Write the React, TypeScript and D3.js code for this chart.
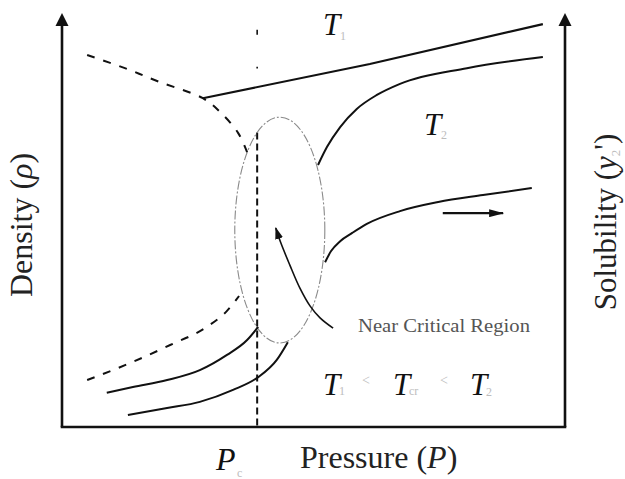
import React from "react";
import * as d3 from "d3";

// Phase-diagram style sketch: density / solubility vs. pressure (arbitrary units 0–10)
const W = 625;
const H = 479;

// Vapour–liquid coexistence (dashed) branches
const coexistLiquid: [number, number][] = [
  [0.5, 9.03], [1.25, 8.71], [1.95, 8.37], [2.8, 7.98], [3.14, 7.65], [3.5, 7.14], [3.68, 6.67],
];
const coexistVapour: [number, number][] = [
  [0.5, 1.14], [1.35, 1.55], [2.15, 1.99], [2.88, 2.43], [3.28, 2.82], [3.52, 3.18],
];

// Isotherms
const liquidT1: [number, number][] = [[2.8, 7.98], [6.12, 8.81], [9.56, 9.78]];
const vapourT1: [number, number][] = [
  [0.89, 0.83], [1.41, 0.97], [2.09, 1.14], [2.74, 1.38], [3.28, 1.75], [3.68, 2.11], [3.9, 2.43],
];
const densityT2Low: [number, number][] = [
  [1.31, 0.29], [2.09, 0.46], [2.74, 0.61], [3.4, 0.9], [3.9, 1.21], [4.27, 1.63], [4.49, 2.06],
];
const densityT2High: [number, number][] = [
  [5.09, 6.36], [5.27, 6.8], [5.53, 7.28], [5.86, 7.72], [6.26, 8.06], [6.72, 8.33], [8.05, 8.71], [9.56, 8.98],
];
const solubilityHigh: [number, number][] = [
  [5.23, 4.0], [5.35, 4.27], [5.53, 4.51], [5.77, 4.71], [6.06, 4.93], [6.72, 5.24], [7.48, 5.46], [8.37, 5.63], [9.34, 5.8],
];

// Pointer into the near-critical region
const regionPointer: [number, number][] = [
  [5.39, 2.4], [5.13, 2.65], [4.93, 2.94], [4.73, 3.37], [4.53, 3.93], [4.35, 4.47], [4.25, 4.83],
];
// Horizontal arrow (direction of increasing pressure)
const trendArrow: [number, number][] = [[7.57, 5.19], [8.77, 5.19]];

// Near-critical region ellipse: centre and radii
const regionCenter: [number, number] = [4.33, 4.78];
const regionRadii: [number, number] = [0.895, 2.74];

// Critical pressure
const criticalPressure = 3.88;

const x = d3.scaleLinear().domain([0, 10]).range([62, 565]);
const y = d3.scaleLinear().domain([0, 10]).range([427, 15]);

const smooth = d3
  .line<[number, number]>()
  .x((d) => x(d[0]))
  .y((d) => y(d[1]))
  .curve(d3.curveCatmullRom.alpha(0.5));
const monotone = d3
  .line<[number, number]>()
  .x((d) => x(d[0]))
  .y((d) => y(d[1]))
  .curve(d3.curveMonotoneX);
const straight = d3
  .line<[number, number]>()
  .x((d) => x(d[0]))
  .y((d) => y(d[1]));

const INK = "#111";
const FAINT = "#bdbdbd";
const SERIF = "'Liberation Serif', 'DejaVu Serif', serif";

function AxisArrow({ px }: { px: number }) {
  const tip = y(10.05);
  const base = tip + 13;
  return <polygon points={`${px},${tip} ${px - 6.5},${base} ${px + 6.5},${base}`} fill={INK} />;
}

export default function App() {
  const [cx, cy] = regionCenter;
  const rx = x(regionCenter[0] + regionRadii[0]) - x(regionCenter[0]);
  const ry = y(regionCenter[1] - regionRadii[1]) - y(regionCenter[1]);
  const xc = x(criticalPressure);

  return (
    <svg
      width={W}
      height={H}
      viewBox={`0 0 ${W} ${H}`}
      style={{ position: "absolute", left: 0, top: 0, background: "#fff" }}
      fontFamily={SERIF}
    >
      <defs>
        <marker
          id="head"
          viewBox="0 0 12 8"
          refX="11"
          refY="4"
          markerWidth="12"
          markerHeight="8"
          markerUnits="userSpaceOnUse"
          orient="auto"
        >
          <path d="M0,0 L12,4 L0,8 Z" fill={INK} />
        </marker>
        <marker
          id="headWide"
          viewBox="0 0 15 8"
          refX="14"
          refY="4"
          markerWidth="15"
          markerHeight="8"
          markerUnits="userSpaceOnUse"
          orient="auto"
        >
          <path d="M0,0 L15,4 L0,8 Z" fill={INK} />
        </marker>
      </defs>

      <rect width={W} height={H} fill="#fff" />

      {/* Axes */}
      <line x1={x(0)} y1={y(0)} x2={x(0)} y2={y(9.8)} stroke={INK} strokeWidth={2.6} />
      <line x1={x(10)} y1={y(0)} x2={x(10)} y2={y(9.8)} stroke={INK} strokeWidth={2.6} />
      <line x1={x(0) - 1.3} y1={y(0)} x2={x(10) + 1.3} y2={y(0)} stroke={INK} strokeWidth={2.6} />
      <AxisArrow px={x(0)} />
      <AxisArrow px={x(10)} />

      {/* Critical pressure marker */}
      <line x1={xc} y1={y(9.64)} x2={xc} y2={y(8.7)} stroke={INK} strokeWidth={1.6} strokeDasharray="5 32 6 100" />
      <line x1={xc} y1={y(7.15)} x2={xc} y2={y(0)} stroke={INK} strokeWidth={2} strokeDasharray="7 4" />

      {/* Near-critical region */}
      <ellipse
        cx={x(cx)}
        cy={y(cy)}
        rx={rx}
        ry={ry}
        fill="none"
        stroke="#8a8a8a"
        strokeWidth={1.1}
        strokeDasharray="9 2 2 2"
      />

      {/* Coexistence branches */}
      <path d={smooth(coexistLiquid) ?? ""} fill="none" stroke={INK} strokeWidth={2} strokeDasharray="8 9" />
      <path d={monotone(coexistVapour) ?? ""} fill="none" stroke={INK} strokeWidth={2} strokeDasharray="8 9" />

      {/* Isotherms */}
      <path d={straight(liquidT1) ?? ""} fill="none" stroke={INK} strokeWidth={2.2} />
      <path d={monotone(vapourT1) ?? ""} fill="none" stroke={INK} strokeWidth={2} />
      <path d={monotone(densityT2Low) ?? ""} fill="none" stroke={INK} strokeWidth={2} />
      <path d={monotone(densityT2High) ?? ""} fill="none" stroke={INK} strokeWidth={2} />
      <path d={monotone(solubilityHigh) ?? ""} fill="none" stroke={INK} strokeWidth={2} />

      {/* Arrows */}
      <path d={smooth(regionPointer) ?? ""} fill="none" stroke={INK} strokeWidth={1.6} markerEnd="url(#head)" />
      <path d={straight(trendArrow) ?? ""} fill="none" stroke={INK} strokeWidth={2.4} markerEnd="url(#headWide)" />

      {/* Curve labels */}
      <text x={323} y={35} fontSize={31} fontStyle="italic" fill={INK}>T</text>
      <text x={340} y={40} fontSize={12} fill={FAINT}>1</text>
      <text x={424} y={135} fontSize={31} fontStyle="italic" fill={INK}>T</text>
      <text x={441} y={139} fontSize={12} fill={FAINT}>2</text>

      <text x={358} y={332} fontSize={19.5} fill="#555" textLength={172} lengthAdjust="spacingAndGlyphs">
        Near Critical Region
      </text>

      <g fill={INK}>
        <text x={323} y={395} fontSize={31} fontStyle="italic">T</text>
        <text x={339} y={395} fontSize={12} fill={FAINT}>1</text>
        <text x={362} y={385} fontSize={14} fill={FAINT}>&lt;</text>
        <text x={393} y={395} fontSize={31} fontStyle="italic">T</text>
        <text x={409} y={395} fontSize={12} fill={FAINT}>cr</text>
        <text x={440} y={385} fontSize={14} fill={FAINT}>&lt;</text>
        <text x={470} y={395} fontSize={31} fontStyle="italic">T</text>
        <text x={486} y={396} fontSize={12} fill={FAINT}>2</text>
      </g>

      {/* Axis titles */}
      <text x={216} y={470} fontSize={32} fontStyle="italic" fill={INK}>P</text>
      <text x={237} y={477} fontSize={12} fill={FAINT}>c</text>
      <text x={300} y={468} fontSize={32} fill="#222">
        Pressure (<tspan fontStyle="italic">P</tspan>)
      </text>

      <text transform="translate(32,225) rotate(-90)" textAnchor="middle" fontSize={32} fill="#222">
        Density (<tspan fontStyle="italic">ρ</tspan>)
      </text>
      <text transform="translate(616,222) rotate(-90)" textAnchor="middle" fontSize={31} fill="#222">
        Solubility (<tspan fontStyle="italic">y</tspan>
        <tspan fontSize={13} fill={FAINT} dy={4}>2</tspan>
        <tspan dy={-4}>&apos;)</tspan>
      </text>
    </svg>
  );
}
